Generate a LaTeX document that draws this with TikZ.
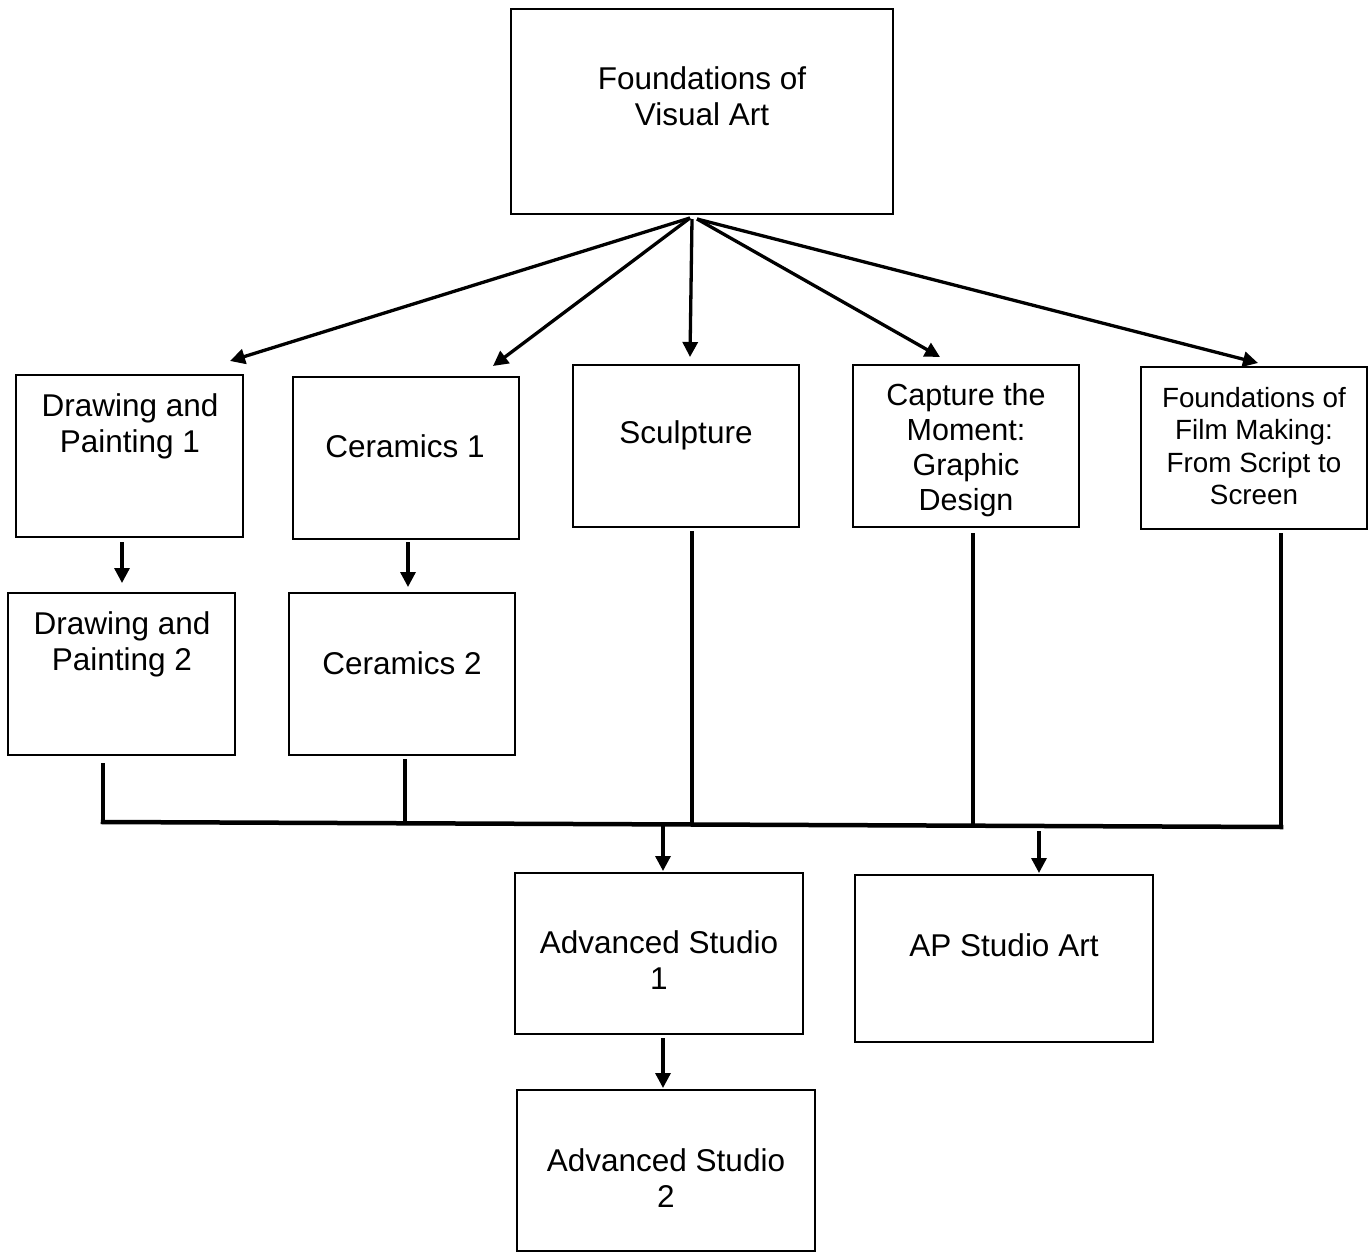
\documentclass[tikz,border=0pt]{standalone}
\usepackage{fontspec}
\setmainfont{Liberation Sans}
\usetikzlibrary{arrows.meta}
\begin{document}
\begin{tikzpicture}[x=1pt,y=-1pt,
  box/.style={draw,line width=2pt,inner sep=0pt,minimum width=#1},
  txt/.style={inner sep=0pt,align=center,font=\fontsize{31.5}{36}\selectfont},
  txtb/.style={inner sep=0pt,align=center,font=\fontsize{30.5}{35}\selectfont},
  txtc/.style={inner sep=0pt,align=center,font=\fontsize{27.8}{32.5}\selectfont},
  conn/.style={line width=3.3pt},
  arr/.style={line width=3.3pt,-{Triangle[length=15pt,width=15pt]}},
  bus/.style={line width=4.5pt}]
\useasboundingbox (0,0) rectangle (1369,1252);
% boxes
\node[box=382pt,minimum height=205pt] (top) at (702,111.5) {};
\node[box=227pt,minimum height=162pt] (dp1) at (129.5,456) {};
\node[box=226pt,minimum height=162pt] (c1) at (406,458) {};
\node[box=226pt,minimum height=162pt] (sc) at (686,446) {};
\node[box=226pt,minimum height=162pt] (cap) at (966,446) {};
\node[box=226pt,minimum height=162pt] (film) at (1254,448) {};
\node[box=227pt,minimum height=162pt] (dp2) at (121.5,674) {};
\node[box=226pt,minimum height=162pt] (c2) at (402,674) {};
\node[box=288pt,minimum height=161pt] (as1) at (659,953.5) {};
\node[box=298pt,minimum height=167pt] (ap) at (1004,958.5) {};
\node[box=298pt,minimum height=161pt] (as2) at (666,1170.5) {};
% texts
\node[txt] (ttop) at (702,96) {Foundations of\\Visual Art};
\node[txt] (tdp1) at (130,426) {Drawing and\\Painting 1};
\node[txt] (tc1) at (405,446) {Ceramics 1};
\node[txt] (tsc) at (686,435) {Sculpture};
\node[txtb] (tcap) at (966,450) {Capture the\\Moment:\\Graphic\\Design};
\node[txtc] (tfilm) at (1254,446) {Foundations of\\Film Making:\\From Script to\\Screen};
\node[txt] (tdp2) at (122,644.5) {Drawing and\\Painting 2};
\node[txt] (tc2) at (402,663) {Ceramics 2};
\node[txt] (tas1) at (659,960.5) {Advanced Studio\\1};
\node[txt] (tap) at (1004,945) {AP Studio Art};
\node[txt] (tas2) at (666,1178.5) {Advanced Studio\\2};
% arrows from top
\draw[arr] ([xshift=-12pt,yshift=-3pt]top.south) -- ([xshift=100.5pt,yshift=13pt]dp1.north);
\draw[arr] ([xshift=-12pt,yshift=-3pt]top.south) -- ([xshift=87pt,yshift=10pt]c1.north);
\draw[arr] ([xshift=-10pt,yshift=-4pt]top.south) -- ([xshift=4pt,yshift=7pt]sc.north);
\draw[arr] ([xshift=-5pt,yshift=-4pt]top.south) -- ([xshift=-26pt,yshift=7pt]cap.north);
\draw[arr] ([xshift=-5pt,yshift=-4pt]top.south) -- ([xshift=4pt,yshift=3pt]film.north);
% short arrows
\draw[arr] ([xshift=-7.5pt,yshift=-4pt]dp1.south) -- ([xshift=0.5pt,yshift=9pt]dp2.north);
\draw[arr] ([xshift=2pt,yshift=-2pt]c1.south) -- ([xshift=6pt,yshift=5pt]c2.north);
% bus
\coordinate (bl) at (103,822);
\coordinate (br) at (1281,827);
\coordinate (b2) at (405,822.2);
\coordinate (b3) at (692,823.4);
\coordinate (b4) at (973,825.6);
\coordinate (d1) at (663,826);
\coordinate (d2) at (1039,831);
\draw[conn] ([xshift=-18.5pt,yshift=-7pt]dp2.south) -- (bl);
\draw[conn] ([xshift=3pt,yshift=-3pt]c2.south) -- (b2);
\draw[conn] ([xshift=6pt,yshift=-3pt]sc.south) -- (b3);
\draw[conn] ([xshift=7pt,yshift=-5pt]cap.south) -- (b4);
\draw[conn] ([xshift=27pt,yshift=-3pt]film.south) -- (br);
\draw[bus,line cap=rect] (bl) -- (br);
\draw[arr] (d1) -- ([xshift=4pt,yshift=1pt]as1.north);
\draw[arr] (d2) -- ([xshift=35pt,yshift=1pt]ap.north);
\draw[arr] ([xshift=4pt,yshift=-3pt]as1.south) -- ([xshift=-3pt,yshift=1pt]as2.north);
\end{tikzpicture}
\end{document}
